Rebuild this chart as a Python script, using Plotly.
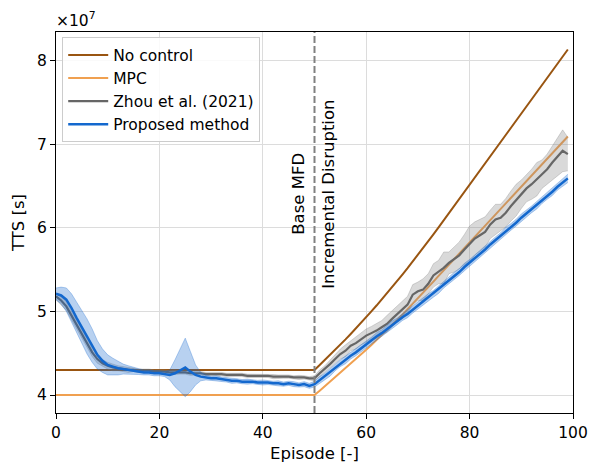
import plotly.graph_objects as go

episodes = list(range(100))

no_control = [
    4.30, 4.30, 4.30, 4.30, 4.30, 4.30, 4.30, 4.30, 4.30, 4.30,
    4.30, 4.30, 4.30, 4.30, 4.30, 4.30, 4.30, 4.30, 4.30, 4.30,
    4.30, 4.30, 4.30, 4.30, 4.30, 4.30, 4.30, 4.30, 4.30, 4.30,
    4.30, 4.30, 4.30, 4.30, 4.30, 4.30, 4.30, 4.30, 4.30, 4.30,
    4.30, 4.30, 4.30, 4.30, 4.30, 4.30, 4.30, 4.30, 4.30, 4.30,
    4.300, 4.358, 4.417, 4.477, 4.539, 4.601, 4.665, 4.730, 4.795, 4.862,
    4.931, 5.000, 5.070, 5.142, 5.215, 5.289, 5.364, 5.440, 5.517, 5.595,
    5.675, 5.755, 5.837, 5.920, 6.004, 6.089, 6.174, 6.259, 6.344, 6.429,
    6.514, 6.600, 6.685, 6.770, 6.855, 6.940, 7.025, 7.110, 7.195, 7.280,
    7.365, 7.450, 7.536, 7.621, 7.706, 7.791, 7.876, 7.961, 8.046, 8.131,
]

mpc = [
    4.00, 4.00, 4.00, 4.00, 4.00, 4.00, 4.00, 4.00, 4.00, 4.00,
    4.00, 4.00, 4.00, 4.00, 4.00, 4.00, 4.00, 4.00, 4.00, 4.00,
    4.00, 4.00, 4.00, 4.00, 4.00, 4.00, 4.00, 4.00, 4.00, 4.00,
    4.00, 4.00, 4.00, 4.00, 4.00, 4.00, 4.00, 4.00, 4.00, 4.00,
    4.00, 4.00, 4.00, 4.00, 4.00, 4.00, 4.00, 4.00, 4.00, 4.00,
    4.000, 4.052, 4.105, 4.158, 4.212, 4.266, 4.320, 4.375, 4.430, 4.485,
    4.541, 4.598, 4.656, 4.715, 4.775, 4.836, 4.898, 4.961, 5.025, 5.090,
    5.156, 5.222, 5.289, 5.356, 5.424, 5.491, 5.557, 5.624, 5.691, 5.757,
    5.824, 5.891, 5.957, 6.024, 6.091, 6.157, 6.224, 6.291, 6.357, 6.424,
    6.491, 6.557, 6.624, 6.691, 6.757, 6.824, 6.891, 6.957, 7.024, 7.091,
]

zhou_mean = [
    5.18, 5.13, 5.06, 4.95, 4.84, 4.72, 4.61, 4.51, 4.43, 4.38,
    4.35, 4.33, 4.32, 4.31, 4.30, 4.30, 4.29, 4.29, 4.29, 4.28,
    4.28, 4.28, 4.27, 4.27, 4.27, 4.27, 4.26, 4.26, 4.26, 4.25,
    4.25, 4.25, 4.25, 4.24, 4.24, 4.24, 4.24, 4.23, 4.23, 4.23,
    4.23, 4.23, 4.22, 4.22, 4.22, 4.22, 4.21, 4.21, 4.21, 4.20,
    4.20, 4.26, 4.31, 4.37, 4.43, 4.49, 4.53, 4.59, 4.62, 4.67,
    4.71, 4.74, 4.77, 4.81, 4.85, 4.91, 4.97, 5.02, 5.08, 5.20,
    5.24, 5.26, 5.33, 5.43, 5.47, 5.52, 5.58, 5.62, 5.67, 5.74,
    5.80, 5.87, 5.91, 5.95, 6.04, 6.10, 6.12, 6.18, 6.26, 6.33,
    6.40, 6.47, 6.52, 6.58, 6.64, 6.70, 6.78, 6.85, 6.92, 6.88,
]

zhou_spread = [
    0.04, 0.05, 0.05, 0.05, 0.05, 0.05, 0.05, 0.05, 0.05, 0.04,
    0.04, 0.04, 0.03, 0.03, 0.03, 0.02, 0.02, 0.02, 0.02, 0.02,
    0.02, 0.02, 0.02, 0.025, 0.02, 0.02, 0.025, 0.02, 0.02, 0.02,
    0.02, 0.025, 0.02, 0.02, 0.02, 0.025, 0.02, 0.02, 0.02, 0.02,
    0.02, 0.02, 0.025, 0.02, 0.02, 0.02, 0.02, 0.025, 0.02, 0.02,
    0.03, 0.04, 0.04, 0.05, 0.05, 0.06, 0.07, 0.06, 0.07, 0.07,
    0.08, 0.08, 0.09, 0.08, 0.10, 0.10, 0.09, 0.11, 0.10, 0.12,
    0.11, 0.13, 0.12, 0.14, 0.14, 0.19, 0.13, 0.15, 0.16, 0.18,
    0.22, 0.20, 0.19, 0.18, 0.17, 0.18, 0.16, 0.17, 0.18, 0.19,
    0.17, 0.16, 0.18, 0.20, 0.17, 0.18, 0.20, 0.22, 0.25, 0.20,
]

proposed_mean = [
    5.21, 5.19, 5.14, 5.04, 4.92, 4.81, 4.70, 4.59, 4.48, 4.41,
    4.36, 4.34, 4.32, 4.31, 4.30, 4.29, 4.28, 4.27, 4.27, 4.26,
    4.26, 4.25, 4.24, 4.26, 4.30, 4.33, 4.28, 4.24, 4.22, 4.21,
    4.20, 4.20, 4.19, 4.18, 4.17, 4.17, 4.16, 4.16, 4.16, 4.15,
    4.15, 4.15, 4.14, 4.14, 4.13, 4.14, 4.13, 4.12, 4.13, 4.11,
    4.13, 4.18, 4.22, 4.27, 4.33, 4.38, 4.42, 4.47, 4.51, 4.56,
    4.61, 4.65, 4.70, 4.74, 4.79, 4.84, 4.88, 4.93, 4.97, 5.02,
    5.07, 5.12, 5.17, 5.21, 5.26, 5.32, 5.37, 5.42, 5.47, 5.53,
    5.58, 5.63, 5.69, 5.74, 5.80, 5.85, 5.90, 5.96, 6.01, 6.06,
    6.12, 6.17, 6.22, 6.27, 6.33, 6.38, 6.43, 6.49, 6.54, 6.59,
]

proposed_spread = [
    0.07, 0.10, 0.14, 0.17, 0.19, 0.20, 0.21, 0.20, 0.17, 0.14,
    0.12, 0.10, 0.08, 0.06, 0.05, 0.04, 0.035, 0.03, 0.03, 0.03,
    0.03, 0.03, 0.06, 0.16, 0.26, 0.35, 0.24, 0.12, 0.05, 0.03,
    0.025, 0.03, 0.025, 0.025, 0.03, 0.025, 0.025, 0.03, 0.025, 0.025,
    0.03, 0.025, 0.025, 0.03, 0.025, 0.025, 0.03, 0.025, 0.03, 0.03,
    0.035, 0.04, 0.04, 0.045, 0.04, 0.04, 0.045, 0.04, 0.04, 0.045,
    0.04, 0.04, 0.045, 0.04, 0.04, 0.045, 0.04, 0.04, 0.045, 0.04,
    0.04, 0.045, 0.04, 0.04, 0.045, 0.04, 0.04, 0.045, 0.04, 0.045,
    0.04, 0.045, 0.04, 0.04, 0.045, 0.04, 0.04, 0.045, 0.04, 0.04,
    0.045, 0.04, 0.04, 0.045, 0.04, 0.04, 0.045, 0.04, 0.045, 0.05,
]

x_ticks = [0, 20, 40, 60, 80, 100]
y_ticks = [4, 5, 6, 7, 8]
disruption_episode = 50

BROWN = "#995511"
ORANGE = "#f0a050"
GRAY = "#666666"
BLUE = "#1368ce"
FONT = "DejaVu Sans"

fig = go.Figure()

fig.add_trace(go.Scatter(x=episodes, y=no_control, mode="lines", name="No control",
                         line=dict(color=BROWN, width=2)))
fig.add_trace(go.Scatter(x=episodes, y=mpc, mode="lines", name="MPC",
                         line=dict(color=ORANGE, width=2)))

# Zhou band + line
z_hi = [m + s for m, s in zip(zhou_mean, zhou_spread)]
z_lo = [m - s for m, s in zip(zhou_mean, zhou_spread)]
fig.add_trace(go.Scatter(x=episodes, y=z_hi, mode="lines", showlegend=False,
                         line=dict(color="rgba(128,128,128,0.3)", width=1), hoverinfo="skip"))
fig.add_trace(go.Scatter(x=episodes, y=z_lo, mode="lines", showlegend=False, fill="tonexty",
                         fillcolor="rgba(128,128,128,0.3)",
                         line=dict(color="rgba(128,128,128,0.3)", width=1), hoverinfo="skip"))
fig.add_trace(go.Scatter(x=episodes, y=zhou_mean, mode="lines", name="Zhou et al. (2021)",
                         line=dict(color=GRAY, width=2.2)))

# Proposed band + line
p_hi = [m + s for m, s in zip(proposed_mean, proposed_spread)]
p_lo = [m - s for m, s in zip(proposed_mean, proposed_spread)]
fig.add_trace(go.Scatter(x=episodes, y=p_hi, mode="lines", showlegend=False,
                         line=dict(color="rgba(19,104,206,0.3)", width=1), hoverinfo="skip"))
fig.add_trace(go.Scatter(x=episodes, y=p_lo, mode="lines", showlegend=False, fill="tonexty",
                         fillcolor="rgba(19,104,206,0.3)",
                         line=dict(color="rgba(19,104,206,0.3)", width=1), hoverinfo="skip"))
fig.add_trace(go.Scatter(x=episodes, y=proposed_mean, mode="lines", name="Proposed method",
                         line=dict(color=BLUE, width=2.5)))

fig.add_shape(type="line", x0=disruption_episode, x1=disruption_episode, xref="x",
              y0=0, y1=1, yref="paper", line=dict(color="#808080", width=2, dash="7px,3px"))

fig.add_annotation(x=disruption_episode, y=6.4, xref="x", yref="y", text="Base MFD",
                   textangle=-90, showarrow=False, xshift=-16,
                   font=dict(family=FONT, size=16.5, color="black"))
fig.add_annotation(x=disruption_episode, y=6.4, xref="x", yref="y", text="Incremental Disruption",
                   textangle=-90, showarrow=False, xshift=14,
                   font=dict(family=FONT, size=16.5, color="black"))
fig.add_annotation(x=0, y=1, xref="paper", yref="paper", text="×10<sup>7</sup>",
                   showarrow=False, xanchor="left", yanchor="bottom", xshift=-2, yshift=0,
                   font=dict(family=FONT, size=15.5, color="black"))

axis_common = dict(showline=True, mirror=True, linecolor="black", linewidth=1,
                   ticks="outside", ticklen=5, tickwidth=1, tickcolor="black",
                   showgrid=True, gridcolor="#dcdcdc", gridwidth=1, zeroline=False,
                   automargin=False,
                   tickfont=dict(family=FONT, size=15.5, color="black"))

fig.update_xaxes(range=[0, 100], tickvals=x_ticks, ticktext=[str(v) for v in x_ticks],
                 title=dict(text="Episode [-]", font=dict(family=FONT, size=16.5, color="black"),
                            standoff=6),
                 **axis_common)
fig.update_yaxes(range=[3.785, 8.34], tickvals=y_ticks, ticktext=[str(v) for v in y_ticks],
                 title=dict(text="TTS [s]", font=dict(family=FONT, size=16.5, color="black"),
                            standoff=8),
                 **axis_common)

fig.update_layout(
    width=591, height=469,
    margin=dict(l=56, r=18, t=32, b=56),
    paper_bgcolor="white", plot_bgcolor="white",
    font=dict(family=FONT, color="black"),
    legend=dict(x=0.012, y=0.986, xanchor="left", yanchor="top", traceorder="normal",
                bgcolor="rgba(255,255,255,0.85)", bordercolor="#cccccc", borderwidth=1,
                font=dict(family=FONT, size=15.5, color="black"),
                tracegroupgap=0, itemwidth=40),
    showlegend=True,
)

fig.write_html("out.html")
